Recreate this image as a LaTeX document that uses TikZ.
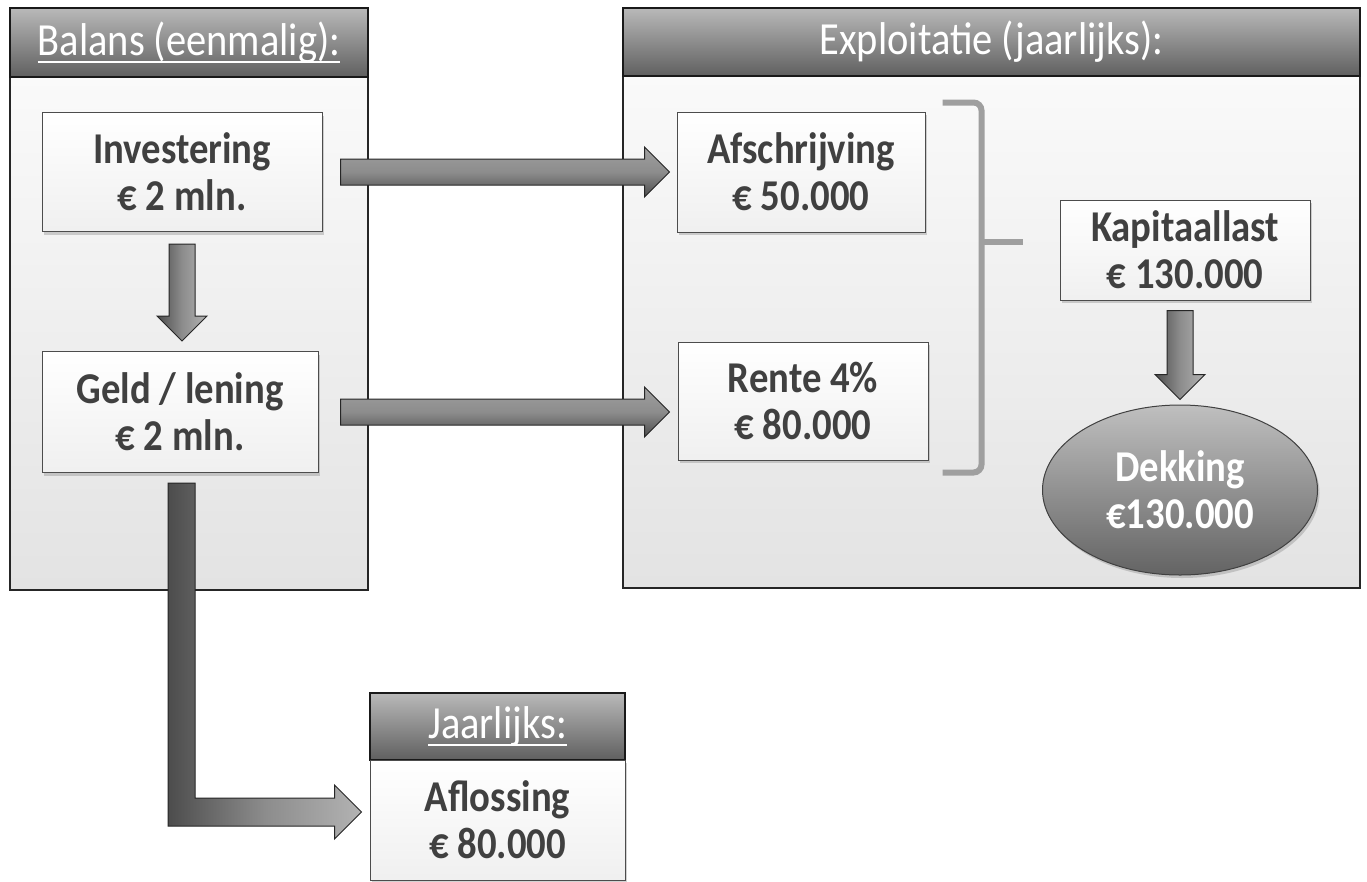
\documentclass[tikz,border=0pt]{standalone}
\usepackage{fontspec}
\setmainfont{Carlito}[FakeStretch=0.88]
\usetikzlibrary{calc,shapes.geometric,shadows}
\newcommand\myul[1]{\setbox0\hbox{#1}\rlap{\rule[-8pt]{\wd0}{2.5pt}}\box0}
\begin{document}
\begin{tikzpicture}[x=1pt,y=-1pt,
  panelbody/.style={draw=black!85, line width=1.3pt, top color=gray!4, bottom color=gray!22, minimum width=#1, inner sep=0},
  panelhead/.style={draw=black!90, line width=1.3pt, top color=gray!55, bottom color=gray!75!black, text=white, font=\fontsize{46}{50}\selectfont, inner sep=0},
  box/.style={draw=gray!60!black, line width=1pt, top color=white, bottom color=gray!12, text=black!75,
     font=\bfseries\fontsize{44}{47}\selectfont, align=center, inner sep=0,
     drop shadow={shadow xshift=2pt, shadow yshift=-3pt, opacity=0.35}},
  fath/.style={draw=black!85, line width=1pt, top color=gray!75, bottom color=gray!60!black, middle color=gray!90},
  fatv/.style={draw=black!85, line width=1pt, left color=gray!60!black, right color=gray!60, middle color=gray!90},
  bracestyle/.style={draw=gray!75, line width=6pt, rounded corners=8pt}
]
\useasboundingbox (0,0) rectangle (1367,881);
\fill[white] (0,0) rectangle (1367,881);

% panels
\node[panelbody=358pt, minimum height=513pt] (lbody) at (189,333.5) {};
\node[panelhead, minimum width=358pt, minimum height=69pt] (lhead) at (189,42.5) {\myul{Balans (eenmalig):}};
\node[panelbody=737pt, minimum height=512pt] (rbody) at (991.5,332) {};
\node[panelhead, minimum width=737pt, minimum height=68pt] (rhead) at (991.5,42) {Exploitatie (jaarlijks):};

% boxes
\node[box, minimum width=280pt, minimum height=119pt] (inv) at (182,172) {Investering\\€ 2 mln.};
\node[box, minimum width=276pt, minimum height=121pt] (geld) at (180,412) {Geld / lening\\€ 2 mln.};
\node[box, minimum width=248pt, minimum height=120pt] (afs) at (801,172) {Afschrijving\\€ 50.000};
\node[box, minimum width=250pt, minimum height=118pt] (rente) at (803,401) {Rente 4\%\\€ 80.000};
\node[box, minimum width=250pt, minimum height=100pt] (kap) at (1185,250) {Kapitaallast\\€ 130.000};
\node[ellipse, draw=black!75, line width=1pt, top color=gray!50, bottom color=gray!78!black,
      minimum width=275pt, minimum height=170pt, inner sep=0, text=white, align=center,
      font=\bfseries\fontsize{44}{47}\selectfont,
      drop shadow={shadow xshift=2pt, shadow yshift=-3pt, opacity=0.35}] (dek) at (1180,490) {Dekking\\€130.000};

% Jaarlijks box
\node[panelhead, minimum width=255pt, minimum height=67pt] (jhead) at (497.5,726.5) {\myul{Jaarlijks:}};
\node[box, drop shadow={opacity=0}, minimum width=255pt, minimum height=120pt] (jbody) at (497.5,820) {Aflossing\\€ 80.000};

% brace
\draw[bracestyle] ($(afs.north east)+(17,-9)$) coordinate (b1) -- ($(afs.north east)+(56,-9)$) -- ($(rente.south east)+(53,12)$) -- ($(rente.south east)+(14,12)$);
\draw[bracestyle] ($(afs.north east)+(56,130)$) coordinate (b2) -- ($(afs.north east)+(97,130)$);

% arrows
\path[fath] let \p1=($(inv.east)+(18,0)$), \p2=($(afs.west)+(-7,0)$) in
  (\x1,\y1+13pt) -- (\x2-25pt,\y1+13pt) -- (\x2-25pt,\y1+25pt) -- (\x2,\y1) -- (\x2-25pt,\y1-25pt) -- (\x2-25pt,\y1-13pt) -- (\x1,\y1-13pt) -- cycle;
\path[fath] let \p1=($(geld.east)+(22,0)$), \p2=($(rente.west |- geld.east)+(-8,0)$) in
  (\x1,\y1+13pt) -- (\x2-25pt,\y1+13pt) -- (\x2-25pt,\y1+25pt) -- (\x2,\y1) -- (\x2-25pt,\y1-25pt) -- (\x2-25pt,\y1-13pt) -- (\x1,\y1-13pt) -- cycle;
\path[fatv] let \p1=($(inv.south)+(0,12)$), \p2=($(geld.north)+(0,-10)$) in
  (\x1-13pt,\y1) -- (\x1-13pt,\y2+25pt) -- (\x1-25pt,\y2+25pt) -- (\x1,\y2) -- (\x1+25pt,\y2+25pt) -- (\x1+13pt,\y2+25pt) -- (\x1+13pt,\y1) -- cycle;
\path[fatv] let \p1=($(dek.north |- kap.south)+(0,10)$), \p2=($(dek.north)+(0,-5)$) in
  (\x1-13pt,\y1) -- (\x1-13pt,\y2+25pt) -- (\x1-25pt,\y2+25pt) -- (\x1,\y2) -- (\x1+25pt,\y2+25pt) -- (\x1+13pt,\y2+25pt) -- (\x1+13pt,\y1) -- cycle;
\path[fatv] let \p1=($(geld.south)+(1,10)$), \p2=($(jbody.west)+(-8,-8)$) in
  (\x1-13pt,\y1) -- (\x1-13pt,\y2-14pt) -- (\x2-27pt,\y2-14pt) -- (\x2-27pt,\y2-27pt) -- (\x2,\y2) -- (\x2-27pt,\y2+27pt) -- (\x2-27pt,\y2+14pt) -- (\x1+14pt,\y2+14pt) -- (\x1+14pt,\y1) -- cycle;
\end{tikzpicture}
\end{document}
